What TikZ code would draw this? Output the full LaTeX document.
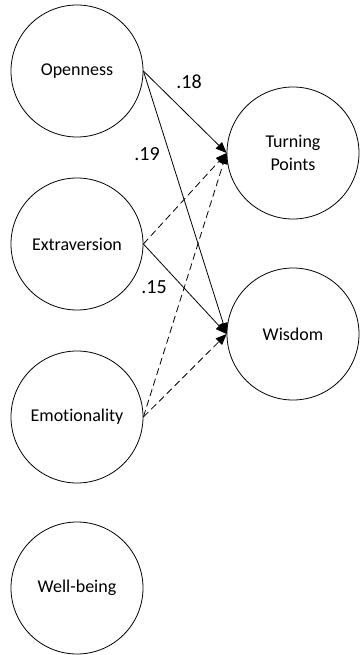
\documentclass[tikz,border=0pt]{standalone}
\usepackage{fontspec}
\setmainfont[Ligatures=NoCommon]{Carlito}
\usetikzlibrary{arrows.meta}
\begin{document}
\begin{tikzpicture}[x=1pt,y=-1pt,
  latent/.style={draw, circle, line width=0.8pt, minimum size=132pt, inner sep=0pt, align=center,
    font=\fontsize{18}{23}\selectfont},
  path/.style={line width=0.8pt, -{Triangle[length=11pt,width=9pt]}},
  nspath/.style={path, dash pattern=on 7pt off 4pt},
  coef/.style={font=\fontsize{20}{24}\selectfont, inner sep=0pt}]
\useasboundingbox (0,0) rectangle (359,655);
\node[latent] (o) at (77,71) {Openness};
\node[latent] (e) at (77,244) {Extraversion};
\node[latent] (em) at (77,417) {Emotionality};
\node[latent] (wb) at (77,588) {Well-being};
\node[latent] (tp) at (293,153) {Turning\\Points};
\node[latent] (w) at (293,334) {Wisdom};
\draw[path] (o.east) -- (tp.west);
\draw[path] (o.east) -- (w.west);
\draw[path] (e.east) -- (w.west);
\draw[nspath] (e.east) -- (tp.west);
\draw[nspath] (em.east) -- (tp.west);
\draw[nspath] (em.east) -- (w.west);
\node[coef] (c1) at (189,82) {.18};
\node[coef] (c2) at (147,154) {.19};
\node[coef] (c3) at (154,287) {.15};
\end{tikzpicture}
\end{document}
